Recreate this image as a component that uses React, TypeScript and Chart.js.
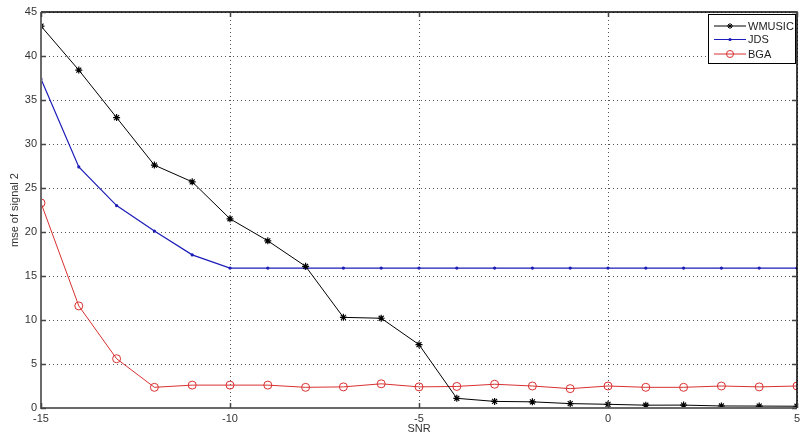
import React, { useEffect, useRef } from "react";
import { Chart, registerables } from "chart.js";

Chart.register(...registerables);

const snr = [-15, -14, -13, -12, -11, -10, -9, -8, -7, -6, -5, -4, -3, -2, -1, 0, 1, 2, 3, 4, 5];
const wmusic = [43.4, 38.4, 33.0, 27.6, 25.7, 21.5, 19.0, 16.1, 10.3, 10.2, 7.2, 1.1, 0.75, 0.7, 0.5, 0.42, 0.32, 0.33, 0.23, 0.22, 0.2];
const jds = [37.4, 27.4, 23.0, 20.1, 17.4, 15.9, 15.9, 15.9, 15.9, 15.9, 15.9, 15.9, 15.9, 15.9, 15.9, 15.9, 15.9, 15.9, 15.9, 15.9, 15.9];
const bga = [23.3, 11.6, 5.6, 2.35, 2.6, 2.6, 2.6, 2.35, 2.4, 2.75, 2.4, 2.45, 2.7, 2.5, 2.2, 2.5, 2.35, 2.35, 2.5, 2.4, 2.5];
const seriesNames = ["WMUSIC", "JDS", "BGA"];
const xTicks = [-15, -10, -5, 0, 5];
const yTicks = [0, 5, 10, 15, 20, 25, 30, 35, 40, 45];

const COLORS = ["#000000", "#1c1cb8", "#d83030"];
const FONT = "'Liberation Sans', Arial, sans-serif";

const toPts = (ys: number[]) => snr.map((x, i) => ({ x, y: ys[i] }));

const framePlugin = {
  id: "matlabFrame",
  afterDraw(chart: any) {
    const { ctx, chartArea: a, scales } = chart;
    const xs = scales.x;
    const ys = scales.y;
    ctx.save();
    ctx.setLineDash([]);
    // left and bottom axis lines
    ctx.strokeStyle = "#6a6a6a";
    ctx.lineWidth = 2;
    ctx.beginPath();
    ctx.moveTo(a.left, a.top);
    ctx.lineTo(a.left, a.bottom);
    ctx.lineTo(a.right, a.bottom);
    ctx.stroke();
    // top and right border
    ctx.strokeStyle = "#000";
    ctx.lineWidth = 1.5;
    ctx.beginPath();
    ctx.moveTo(a.left, a.top);
    ctx.lineTo(a.right, a.top);
    ctx.lineTo(a.right, a.bottom);
    ctx.stroke();
    // inward ticks
    ctx.strokeStyle = "#444";
    ctx.lineWidth = 1.5;
    const L = 5;
    ctx.beginPath();
    yTicks.forEach((v) => {
      const py = Math.round(ys.getPixelForValue(v)) + 0.5;
      ctx.moveTo(a.left, py);
      ctx.lineTo(a.left + L, py);
      ctx.moveTo(a.right, py);
      ctx.lineTo(a.right - L, py);
    });
    xTicks.forEach((v) => {
      const px = Math.round(xs.getPixelForValue(v)) + 0.5;
      ctx.moveTo(px, a.bottom);
      ctx.lineTo(px, a.bottom - L);
      ctx.moveTo(px, a.top);
      ctx.lineTo(px, a.top + L);
    });
    ctx.stroke();

    // legend
    const bx = 708, by = 14, bw = 87, bh = 49;
    ctx.fillStyle = "#fff";
    ctx.fillRect(bx, by, bw, bh);
    ctx.strokeStyle = "#000";
    ctx.lineWidth = 1;
    ctx.strokeRect(bx + 0.5, by + 0.5, bw, bh);
    const rows = [26, 39.5, 54];
    seriesNames.forEach((name, i) => {
      const y = rows[i];
      ctx.strokeStyle = COLORS[i];
      ctx.lineWidth = 1;
      ctx.beginPath();
      ctx.moveTo(714, y);
      ctx.lineTo(746, y);
      ctx.stroke();
      const mx = 730;
      if (i === 0) {
        ctx.beginPath();
        ctx.moveTo(mx - 3, y); ctx.lineTo(mx + 3, y);
        ctx.moveTo(mx, y - 3); ctx.lineTo(mx, y + 3);
        ctx.moveTo(mx - 2, y - 2); ctx.lineTo(mx + 2, y + 2);
        ctx.moveTo(mx - 2, y + 2); ctx.lineTo(mx + 2, y - 2);
        ctx.stroke();
      } else if (i === 1) {
        ctx.fillStyle = COLORS[i];
        ctx.beginPath();
        ctx.arc(mx, y, 1.6, 0, Math.PI * 2);
        ctx.fill();
      } else {
        ctx.beginPath();
        ctx.arc(mx, y, 3.5, 0, Math.PI * 2);
        ctx.stroke();
      }
      ctx.fillStyle = "#222";
      ctx.font = `11px ${FONT}`;
      ctx.textAlign = "left";
      ctx.textBaseline = "middle";
      ctx.fillText(name, 748, y + 0.5);
    });
    ctx.restore();
  },
};

export default function App() {
  const ref = useRef<HTMLCanvasElement | null>(null);

  useEffect(() => {
    document.body.style.margin = "0";
    const canvas = ref.current!;
    const chart = new Chart(canvas, {
      type: "line",
      data: {
        datasets: [
          {
            label: seriesNames[0],
            data: toPts(wmusic),
            borderColor: COLORS[0],
            backgroundColor: COLORS[0],
            borderWidth: 1,
            pointStyle: "star",
            pointRadius: 3.5,
            pointBorderWidth: 1.2,
            tension: 0,
          },
          {
            label: seriesNames[1],
            data: toPts(jds),
            borderColor: COLORS[1],
            backgroundColor: COLORS[1],
            borderWidth: 1.2,
            pointStyle: "circle",
            pointRadius: 1.6,
            pointBorderWidth: 0,
            tension: 0,
          },
          {
            label: seriesNames[2],
            data: toPts(bga),
            borderColor: COLORS[2],
            backgroundColor: "rgba(0,0,0,0)",
            borderWidth: 1,
            pointStyle: "circle",
            pointRadius: 4,
            pointBorderWidth: 1,
            tension: 0,
          },
        ],
      },
      options: {
        responsive: false,
        animation: false,
        events: [],
        layout: { padding: { top: 12, right: 11, left: 0, bottom: 0 } },
        plugins: {
          legend: { display: false },
          tooltip: { enabled: false },
        },
        scales: {
          x: {
            type: "linear",
            min: -15,
            max: 5,
            afterBuildTicks: (s: any) => {
              s.ticks = xTicks.map((v) => ({ value: v }));
            },
            afterFit: (s: any) => {
              s.height = 34;
            },
            grid: {
              color: "#555",
              lineWidth: 1,
              drawTicks: false,
            },
            border: { display: false, dash: [1, 3] },
            ticks: {
              padding: 4,
              color: "#333",
              font: { family: FONT, size: 11 },
              maxRotation: 0,
            },
            title: {
              display: true,
              text: "SNR",
              color: "#333",
              font: { family: FONT, size: 11 },
              padding: { top: 0, bottom: 6 },
            },
          },
          y: {
            type: "linear",
            min: 0,
            max: 45,
            afterBuildTicks: (s: any) => {
              s.ticks = yTicks.map((v) => ({ value: v }));
            },
            afterFit: (s: any) => {
              s.width = 41;
            },
            grid: {
              color: "#555",
              lineWidth: 1,
              drawTicks: false,
            },
            border: { display: false, dash: [1, 3] },
            ticks: {
              padding: 4,
              color: "#333",
              font: { family: FONT, size: 11 },
            },
            title: {
              display: true,
              text: "mse of signal 2",
              color: "#333",
              font: { family: FONT, size: 11 },
              padding: { top: 8, bottom: 0 },
            },
          },
        },
      } as any,
      plugins: [framePlugin],
    });
    return () => chart.destroy();
  }, []);

  return (
    <div style={{ position: "fixed", left: 0, top: 0, width: 808, height: 442, background: "#fff" }}>
      <canvas ref={ref} width={808} height={442} style={{ width: 808, height: 442 }} />
    </div>
  );
}
